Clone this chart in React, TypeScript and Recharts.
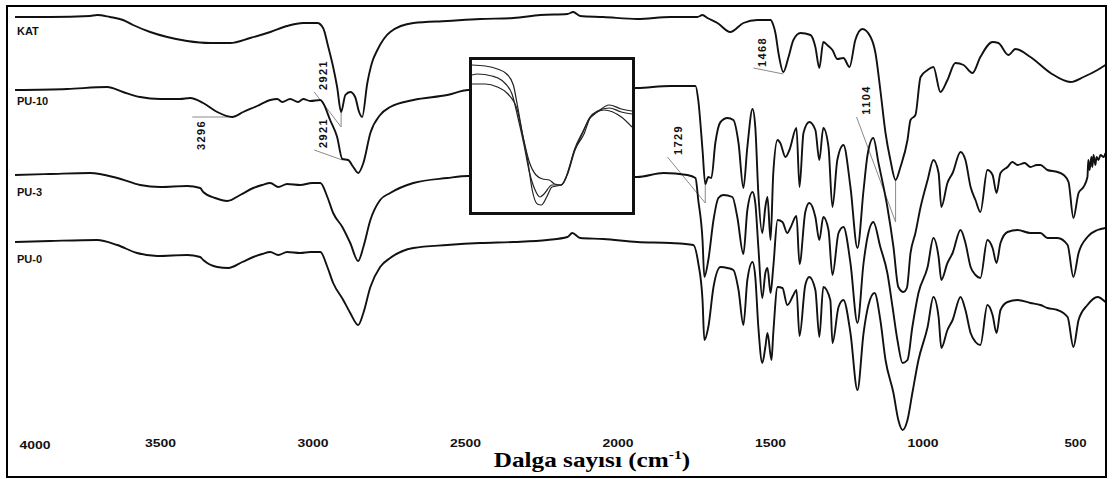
import { Line, LineChart, ReferenceLine, XAxis, YAxis } from "recharts";

// FTIR spektrumlari: [dalga sayisi (cm-1), geçirgenlik (ofsetli, keyfi birim)]
type Pt = [number, number];

const KAT: Pt[] = [
  [3990, 423], [3875, 423], [3744, 424], [3721, 425], [3679, 423], [3636, 420], [3603, 415],
  [3547, 408], [3491, 403], [3426, 399], [3350, 397], [3285, 397], [3219, 402], [3153, 408],
  [3098, 414], [3045, 417], [2999, 417], [2980, 412], [2963, 393], [2947, 373], [2934, 353],
  [2921, 328], [2907, 345], [2891, 348], [2875, 343], [2862, 328], [2852, 323], [2835, 357],
  [2819, 378], [2802, 390], [2760, 408], [2684, 417], [2573, 419], [2465, 421], [2356, 422],
  [2268, 425], [2179, 426], [2160, 428], [2137, 424], [2061, 423], [1950, 421], [1841, 423],
  [1753, 423], [1736, 425], [1720, 422], [1687, 417], [1645, 408], [1602, 417], [1556, 420],
  [1513, 420], [1504, 415], [1497, 407], [1487, 387], [1471, 368], [1454, 383], [1438, 400],
  [1415, 407], [1382, 405], [1366, 393], [1353, 372], [1340, 398], [1327, 395], [1310, 390],
  [1294, 381], [1274, 382], [1254, 373], [1235, 400], [1212, 411], [1185, 403], [1169, 387],
  [1153, 350], [1136, 307], [1120, 280], [1103, 260], [1087, 273], [1064, 300], [1054, 320],
  [1038, 325], [1021, 363], [998, 370], [979, 373], [956, 348], [933, 360], [907, 377],
  [880, 375], [851, 367], [825, 383], [785, 398], [766, 397], [733, 385], [710, 391],
  [661, 383], [595, 367], [529, 358], [487, 363], [441, 370], [415, 375],
];

const PU10: Pt[] = [
  [3990, 350], [3819, 351], [3688, 353], [3636, 348], [3580, 343], [3514, 341], [3449, 341],
  [3416, 342], [3373, 337], [3327, 328], [3278, 323], [3242, 328], [3196, 334], [3153, 340],
  [3130, 341], [3114, 338], [3088, 341], [3062, 338], [3045, 341], [3022, 339], [2989, 340],
  [2980, 337], [2957, 320], [2934, 303], [2917, 281], [2898, 280], [2881, 273], [2865, 267],
  [2848, 277], [2825, 307], [2793, 325], [2760, 333], [2684, 340], [2573, 345], [2504, 350],
  [1950, 352], [1841, 354], [1759, 354], [1750, 340], [1736, 290], [1727, 256], [1717, 263],
  [1707, 262], [1694, 297], [1677, 318], [1654, 322], [1635, 320], [1618, 297], [1602, 252],
  [1589, 293], [1572, 331], [1563, 313], [1553, 247], [1540, 207], [1530, 233], [1523, 243],
  [1513, 200], [1504, 267], [1490, 300], [1481, 297], [1464, 283], [1451, 290], [1428, 312],
  [1418, 253], [1405, 307], [1386, 318], [1366, 310], [1353, 280], [1340, 312], [1323, 293],
  [1310, 233], [1294, 280], [1274, 295], [1251, 253], [1228, 192], [1208, 250], [1195, 285],
  [1176, 302], [1159, 277], [1130, 233], [1110, 193], [1094, 153], [1077, 148], [1066, 152],
  [1054, 187], [1038, 207], [1021, 233], [998, 260], [979, 280], [962, 267], [953, 233],
  [933, 257], [916, 267], [890, 288], [874, 280], [857, 253], [841, 240], [825, 228],
  [802, 270], [785, 265], [772, 247], [759, 267], [736, 273], [720, 278], [703, 275],
  [680, 277], [661, 273], [640, 275], [628, 275], [605, 270], [572, 268], [552, 265],
  [536, 258], [520, 222], [503, 247], [487, 253], [474, 263], [471, 280], [467, 270],
  [461, 283], [458, 273], [454, 285], [448, 275], [444, 283], [438, 280], [431, 285],
  [421, 283], [415, 287],
];

const PU3: Pt[] = [
  [3990, 265], [3875, 266], [3744, 267], [3655, 262], [3580, 255], [3514, 253], [3426, 254],
  [3383, 252], [3373, 248], [3334, 242], [3294, 239], [3252, 245], [3209, 252], [3180, 255],
  [3153, 257], [3127, 253], [3098, 256], [3055, 255], [3016, 257], [2989, 257], [2966, 243],
  [2947, 227], [2917, 213], [2891, 197], [2865, 179], [2848, 193], [2825, 220], [2793, 240],
  [2760, 247], [2684, 257], [2573, 262], [2504, 264], [1950, 263], [1864, 267], [1786, 265],
  [1759, 262], [1750, 240], [1736, 200], [1730, 163], [1717, 180], [1700, 220], [1684, 242],
  [1668, 245], [1638, 243], [1622, 223], [1602, 186], [1589, 230], [1572, 248], [1563, 237],
  [1553, 193], [1540, 142], [1530, 167], [1523, 172], [1513, 147], [1504, 173], [1490, 220],
  [1474, 218], [1458, 207], [1448, 212], [1428, 224], [1418, 176], [1399, 228], [1386, 237],
  [1366, 223], [1353, 200], [1340, 223], [1323, 210], [1310, 165], [1290, 207], [1274, 213],
  [1251, 177], [1228, 117], [1208, 177], [1195, 203], [1176, 218], [1153, 193], [1130, 167],
  [1113, 133], [1097, 100], [1080, 77], [1064, 80], [1048, 113], [1028, 147], [998, 173],
  [979, 202], [962, 183], [953, 160], [933, 177], [916, 187], [890, 210], [874, 197],
  [857, 173], [841, 165], [825, 162], [802, 200], [785, 192], [772, 177], [759, 197],
  [736, 208], [703, 210], [661, 207], [628, 207], [605, 202], [572, 202], [539, 195],
  [520, 163], [503, 187], [474, 203], [441, 210], [415, 212],
];

const PU0: Pt[] = [
  [3990, 198], [3875, 199], [3721, 200], [3655, 195], [3590, 187], [3524, 184], [3426, 185],
  [3383, 183], [3373, 180], [3327, 173], [3291, 172], [3245, 178], [3209, 183], [3180, 186],
  [3153, 188], [3127, 185], [3098, 188], [3055, 187], [3022, 188], [2989, 188], [2966, 173],
  [2947, 157], [2914, 140], [2891, 127], [2865, 115], [2848, 127], [2825, 153], [2793, 173],
  [2760, 182], [2684, 192], [2573, 195], [2465, 197], [2356, 198], [2245, 200], [2179, 203],
  [2163, 207], [2137, 202], [2061, 201], [1950, 198], [1841, 197], [1766, 195], [1750, 177],
  [1736, 140], [1730, 100], [1717, 113], [1700, 153], [1677, 173], [1654, 172], [1635, 170],
  [1618, 150], [1602, 115], [1589, 160], [1572, 178], [1563, 163], [1553, 113], [1540, 77],
  [1530, 93], [1523, 107], [1510, 80], [1504, 107], [1490, 153], [1474, 152], [1458, 135],
  [1438, 145], [1428, 150], [1418, 104], [1399, 155], [1386, 163], [1366, 150], [1353, 103],
  [1340, 153], [1317, 140], [1310, 97], [1290, 133], [1274, 140], [1251, 107], [1228, 50],
  [1208, 107], [1192, 135], [1172, 147], [1153, 120], [1136, 80], [1110, 47], [1094, 20],
  [1080, 10], [1064, 20], [1048, 47], [1028, 80], [998, 113], [979, 143], [962, 123],
  [953, 92], [933, 110], [916, 120], [890, 143], [874, 130], [857, 107], [841, 98],
  [825, 95], [802, 135], [785, 125], [772, 107], [759, 130], [736, 138], [703, 140],
  [661, 137], [628, 135], [605, 132], [572, 130], [539, 123], [520, 93], [503, 120],
  [474, 135], [441, 143], [415, 138],
];

// iç grafik (büyütülmüş bant)
const INSET_A: Pt[] = [
  [1780, 147], [1770, 146], [1761, 143], [1754, 138], [1749, 127], [1746, 107], [1742, 77],
  [1738, 50], [1735, 23], [1731, 8], [1728, 7], [1724, 15], [1720, 25], [1713, 27],
  [1708, 40], [1703, 63], [1697, 80], [1692, 93], [1686, 100], [1677, 107], [1668, 103],
  [1660, 101],
];
const INSET_B: Pt[] = [
  [1780, 137], [1776, 138], [1765, 136], [1758, 132], [1750, 118], [1746, 97], [1741, 67],
  [1737, 40], [1733, 23], [1729, 15], [1726, 18], [1720, 27], [1713, 27], [1708, 39],
  [1703, 61], [1697, 79], [1692, 94], [1686, 101], [1677, 104], [1668, 100], [1660, 98],
];
const INSET_C: Pt[] = [
  [1780, 128], [1770, 128], [1761, 125], [1753, 118], [1746, 102], [1742, 77], [1737, 50],
  [1732, 37], [1727, 33], [1722, 32], [1718, 28], [1713, 27], [1711, 30], [1703, 62],
  [1696, 78], [1691, 95], [1681, 102], [1668, 95], [1660, 85],
];

const X_TICKS = [4000, 3500, 3000, 2500, 2000, 1500, 1000, 500];

const SERIES = [
  { name: "KAT", points: KAT, labelTop: 25.5 },
  { name: "PU-10", points: PU10, labelTop: 95.5 },
  { name: "PU-3", points: PU3, labelTop: 186.5 },
  { name: "PU-0", points: PU0, labelTop: 253.5 },
];

// pik işaretleri: [etiket, çizgi uçları (cm-1, değer)], etiket merkezi px
const PEAKS = [
  { text: "2921", cx: 322.5, cy: 75, lines: [[[3009, 348], [2921, 313]], [[2921, 328], [2921, 313]]] },
  { text: "2921", cx: 322.5, cy: 133, lines: [[[3009, 290], [2917, 280]]] },
  { text: "3296", cx: 200.5, cy: 135, lines: [[[3409, 323], [3278, 323]]] },
  { text: "1729", cx: 677.5, cy: 140, lines: [[[1851, 283], [1727, 237]], [[1727, 257], [1727, 237]]] },
  { text: "1468", cx: 762, cy: 52, lines: [[[1569, 372], [1471, 366]]] },
  { text: "1104", cx: 865.5, cy: 100, lines: [[[1231, 323], [1103, 218]], [[1103, 260], [1103, 218]]] },
];

const rows = (pts: Pt[]) => pts.map(([wn, t]) => ({ wn, t }));

const FONT = "'Liberation Sans', Arial, sans-serif";

const WnTick = ({ x, payload }: any) => {
  const v = payload.value as number;
  const first = v === 4000;
  return (
    <text
      x={first ? x + 23 : x - 4}
      y={first ? 449 : 446.5}
      textAnchor="middle"
      fontFamily={FONT}
      fontWeight="bold"
      fontSize={11}
      fill="#111"
      textLength={v >= 1000 ? 31 : 22}
      lengthAdjust="spacingAndGlyphs"
    >
      {v}
    </text>
  );
};

export default function App() {
  return (
    <div
      style={{
        position: "absolute",
        left: 0,
        top: 0,
        width: 1113,
        height: 479,
        background: "#fff",
        overflow: "hidden",
      }}
    >
      <LineChart width={1113} height={479} margin={{ top: 0, right: 3, bottom: 0, left: 12 }}>
        <XAxis
          type="number"
          dataKey="wn"
          domain={[400, 4000]}
          reversed
          allowDataOverflow
          ticks={X_TICKS}
          interval={0}
          axisLine={false}
          tickLine={false}
          height={39}
          tick={<WnTick />}
        />
        <YAxis hide type="number" domain={[0, 440]} allowDataOverflow />
        {PEAKS.flatMap((p, i) =>
          p.lines.map((seg, j) => (
            <ReferenceLine
              key={`pk-${i}-${j}`}
              segment={[
                { x: seg[0][0], y: seg[0][1] },
                { x: seg[1][0], y: seg[1][1] },
              ]}
              stroke="#8a8a8a"
              strokeWidth={1}
              ifOverflow="visible"
            />
          ))
        )}
        {SERIES.map((s) => (
          <Line
            key={s.name}
            data={rows(s.points)}
            dataKey="t"
            name={s.name}
            type="monotone"
            stroke="#111"
            strokeWidth={1.9}
            dot={false}
            isAnimationActive={false}
          />
        ))}
      </LineChart>

      {/* inset */}
      <div
        style={{
          position: "absolute",
          left: 469,
          top: 57,
          width: 166,
          height: 158,
          boxSizing: "border-box",
          border: "3px solid #111",
          background: "#fff",
        }}
      >
        <LineChart width={160} height={152} margin={{ top: 0, right: 0, bottom: 0, left: 0 }}>
          <XAxis hide type="number" dataKey="wn" domain={[1660, 1780]} reversed allowDataOverflow />
          <YAxis hide type="number" domain={[0, 152]} allowDataOverflow />
          {[INSET_A, INSET_B, INSET_C].map((pts, i) => (
            <Line
              key={i}
              data={rows(pts)}
              dataKey="t"
              type="monotone"
              stroke="#222"
              strokeWidth={1.2}
              dot={false}
              isAnimationActive={false}
            />
          ))}
        </LineChart>
      </div>

      {SERIES.map((s) => (
        <div
          key={s.name}
          style={{
            position: "absolute",
            left: 17,
            top: s.labelTop,
            fontFamily: FONT,
            fontWeight: "bold",
            fontSize: 11,
            lineHeight: "11px",
            color: "#111",
          }}
        >
          {s.name}
        </div>
      ))}

      {PEAKS.map((p, i) => (
        <div
          key={i}
          style={{
            position: "absolute",
            left: p.cx,
            top: p.cy,
            transform: "translate(-50%, -50%) rotate(-90deg)",
            fontFamily: FONT,
            fontWeight: "bold",
            fontSize: 11,
            lineHeight: "11px",
            letterSpacing: 1.4,
            color: "#111",
            whiteSpace: "nowrap",
          }}
        >
          {p.text}
        </div>
      ))}

      <div
        style={{
          position: "absolute",
          left: 592,
          top: 450,
          transform: "translateX(-50%) scaleX(1.2)",
          fontFamily: "'Liberation Serif', 'Times New Roman', serif",
          fontWeight: "bold",
          fontSize: 21,
          lineHeight: "21px",
          color: "#000",
          whiteSpace: "nowrap",
        }}
      >
        Dalga sayısı (cm<sup style={{ fontSize: 13, lineHeight: 0 }}>-1</sup>)
      </div>

      <div
        style={{
          position: "absolute",
          left: 6,
          top: 5,
          width: 1101,
          height: 473,
          boxSizing: "border-box",
          border: "2px solid #000",
          pointerEvents: "none",
        }}
      />
    </div>
  );
}
